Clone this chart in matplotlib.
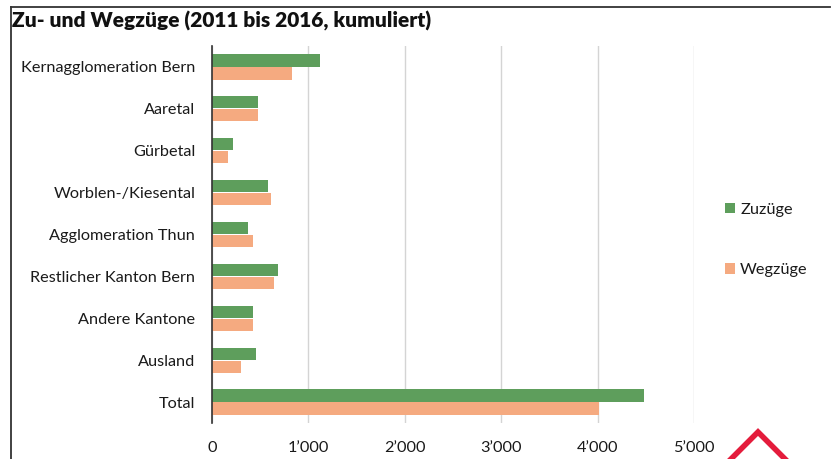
import matplotlib
matplotlib.use("Agg")
import matplotlib.pyplot as plt
import numpy as np
from matplotlib.lines import Line2D

plt.rcParams['font.family'] = ['Lato', 'DejaVu Sans']

categories = ["Kernagglomeration Bern", "Aaretal", "Gürbetal", "Worblen-/Kiesental",
              "Agglomeration Thun", "Restlicher Kanton Bern", "Andere Kantone", "Ausland", "Total"]
zuzuege = [1120, 480, 215, 580, 375, 685, 425, 455, 4480]
wegzuege = [830, 480, 170, 610, 425, 640, 425, 300, 4015]
xticks = [0, 1000, 2000, 3000, 4000, 5000]
xticklabels = ["0", "1\u2019000", "2\u2019000", "3\u2019000", "4\u2019000", "5\u2019000"]

GREEN = "#5e9e5c"
ORANGE = "#f5aa80"
W, H = 834, 459

fig = plt.figure(figsize=(W / 100, H / 100), dpi=100)
ax = fig.add_axes([212 / W, 1 - 423 / H, (694 - 212) / W, (423 - 46) / H])

y = np.arange(len(categories))
ax.barh(y - 0.155, zuzuege, height=0.29, color=GREEN, label="Zuzüge")
ax.barh(y + 0.155, wegzuege, height=0.29, color=ORANGE, label="Wegzüge")

ax.set_ylim(len(categories) - 0.5, -0.5)
ax.set_xlim(0, 5000)
ax.set_yticks(y)
ax.set_yticklabels(categories, fontsize=11.7, color="#1a1a1a")
ax.set_xticks(xticks)
ax.set_xticklabels(xticklabels, fontsize=11.7, color="#1a1a1a")
ax.tick_params(axis="both", length=0)
ax.tick_params(axis="x", pad=13)
ax.tick_params(axis="y", pad=12)
ax.grid(axis="x", color="#d4d4d4", lw=1)
ax.set_axisbelow(True)
for s in ["top", "right", "bottom"]:
    ax.spines[s].set_visible(False)
ax.spines["left"].set_color("#333333")
ax.spines["left"].set_linewidth(1.2)

leg = ax.legend(loc="center left", bbox_to_anchor=(1.035, 0.485), frameon=False,
                fontsize=11.7, labelspacing=2.85, handlelength=0.6, handleheight=0.6,
                handletextpad=0.3)
for t in leg.get_texts():
    t.set_color("#1a1a1a")

fig.text(12 / W, 1 - 21 / H, "Zu- und Wegzüge (2011 bis 2016, kumuliert)",
         fontsize=15, fontweight="heavy", va="center", ha="left", color="#111111")

# frame lines
fig.add_artist(Line2D([11 / W, 830 / W], [1 - 7 / H, 1 - 7 / H], color="#333333", lw=1.3))
fig.add_artist(Line2D([11 / W, 11 / W], [1 - 7 / H, 0], color="#333333", lw=1.3))
# red logo corner
fig.add_artist(Line2D([728 / W, 758 / W, 790 / W], [1 - 462 / H, 1 - 432 / H, 1 - 464 / H],
                      color="#e41c3c", lw=4, solid_joinstyle="miter"))

fig.savefig("out.png", dpi=100)
